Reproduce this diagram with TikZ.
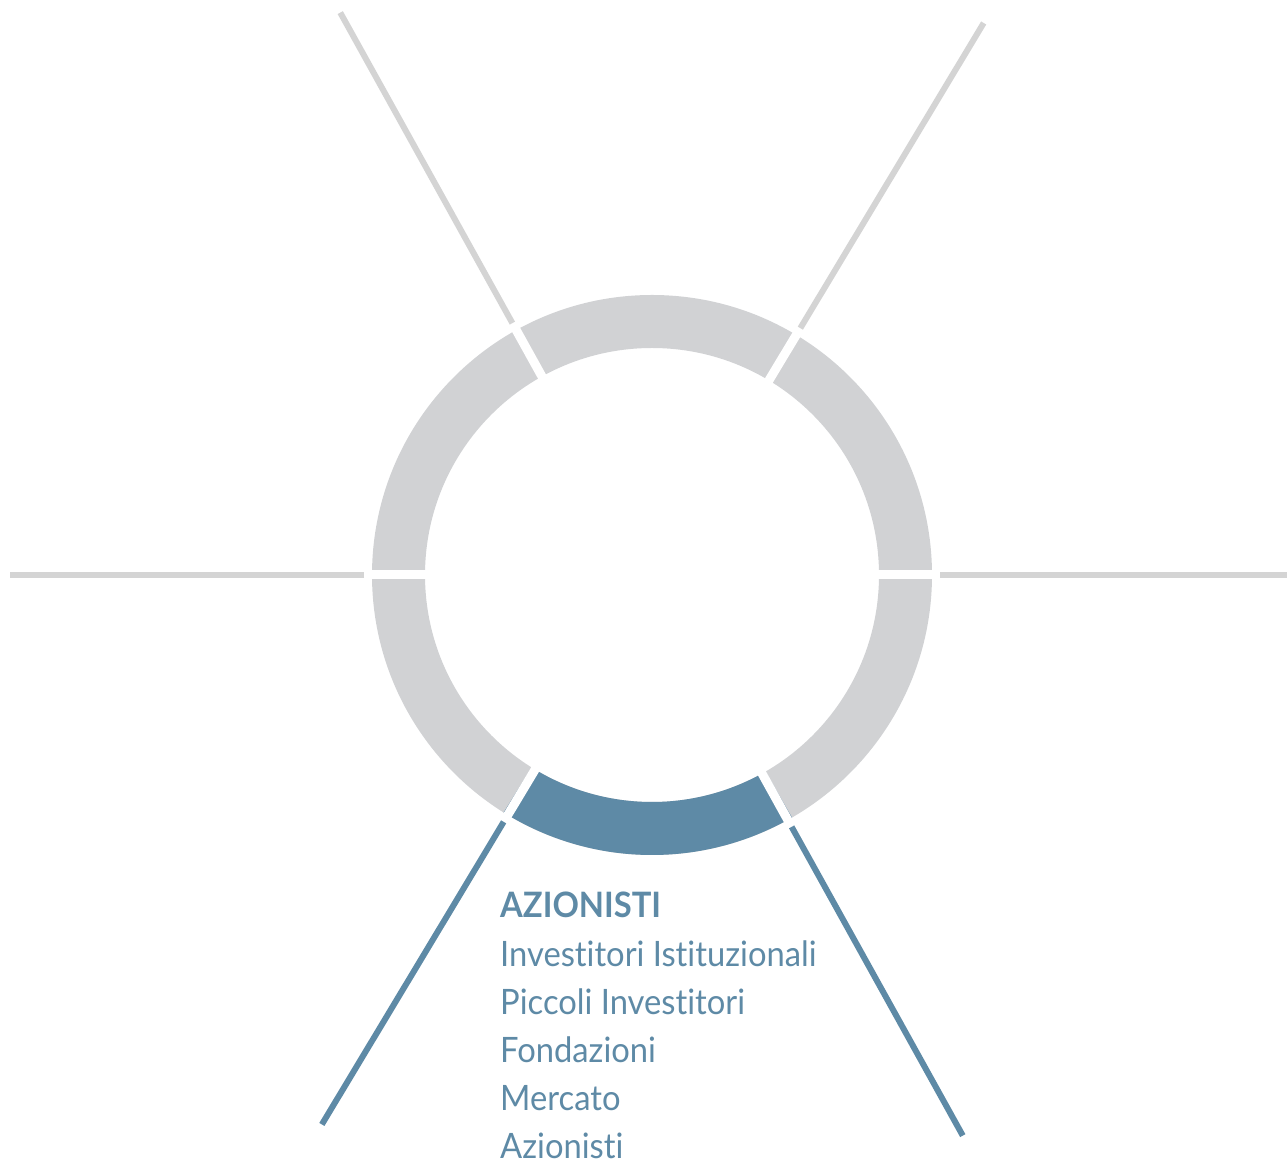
\documentclass[tikz,border=0pt]{standalone}
\usepackage{fontspec}
\setmainfont{Lato}[Ligatures={NoCommon},FakeStretch=0.935]
\definecolor{ringgray}{HTML}{D1D2D4}
\definecolor{linegray}{HTML}{D4D4D4}
\definecolor{steel}{HTML}{5E8AA6}
\begin{document}
\begin{tikzpicture}[x=1pt,y=1pt,
  ray/.style={line width=6pt},
  gapline/.style={white,line width=9pt},
  label/.style={anchor=base west,inner sep=0pt,text=steel,font=\fontsize{35}{42}\selectfont}]
\useasboundingbox (0,0) rectangle (1287,1162);
\coordinate (C) at (652,587);
% ring
\fill[ringgray,even odd rule] (C) circle (280) (C) circle (227);
\fill[steel] ([shift={(C)}]-122:280) arc (-122:-60:280) -- ([shift={(C)}]-60:227) arc (-60:-122:227) -- cycle;
% gaps
\draw[gapline] ([shift={(C)}]0:300) -- ([shift={(C)}]180:300);
\draw[gapline] ([shift={(C)}]59:300) -- ([shift={(C)}]-121:300);
\draw[gapline] ([shift={(C)}]119:300) -- ([shift={(C)}]-61:300);
% rays
\coordinate (rLa) at ([shift={(C)}]180:288); \coordinate (rLb) at ([shift={(C)}]180:642);
\coordinate (rRa) at ([shift={(C)}]0:288);   \coordinate (rRb) at ([shift={(C)}]0:642);
\coordinate (rTLa) at ([shift={(C)}]119:288); \coordinate (rTLb) at ([shift={(C)}]119:643);
\coordinate (rTRa) at ([shift={(C)}]59:288);  \coordinate (rTRb) at ([shift={(C)}]59:644);
\coordinate (rBLa) at ([shift={(C)}]-121:288); \coordinate (rBLb) at ([shift={(C)}]-121:641);
\coordinate (rBRa) at ([shift={(C)}]-61:288);  \coordinate (rBRb) at ([shift={(C)}]-61:641);
\draw[ray,linegray] (rLa) -- (rLb);
\draw[ray,linegray] (rRa) -- (rRb);
\draw[ray,linegray] (rTLa) -- (rTLb);
\draw[ray,linegray] (rTRa) -- (rTRb);
\draw[ray,steel] (rBLa) -- (rBLb);
\draw[ray,steel] (rBRa) -- (rBRb);
% labels
\node[label,font=\fontsize{35}{42}\selectfont\bfseries] (t0) at (500,244) {AZIONISTI};
\node[label] (t1) at (500,196) {Investitori Istituzionali};
\node[label] (t2) at (500,148) {Piccoli Investitori};
\node[label] (t3) at (500,100) {Fondazioni};
\node[label] (t4) at (500,52) {Mercato};
\node[label] (t5) at (500,4) {Azionisti};
\end{tikzpicture}
\end{document}
